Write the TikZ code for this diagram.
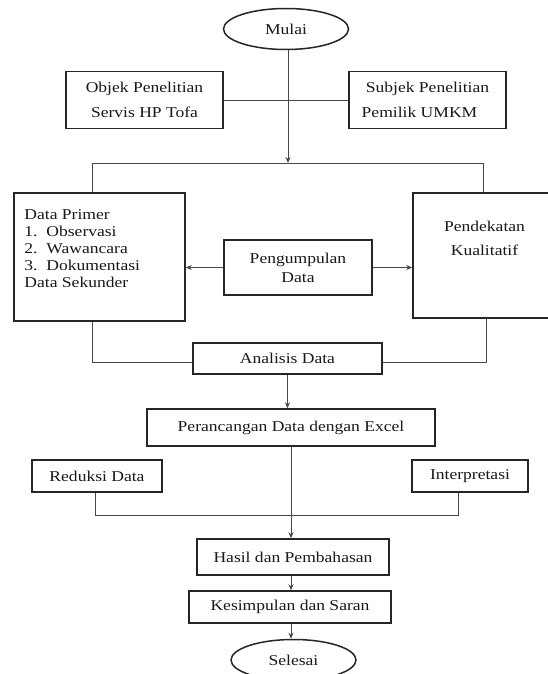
\documentclass[tikz,border=0pt]{standalone}
\usepackage{fontspec}
\setmainfont{Liberation Serif}[FakeStretch=1.17]
\usetikzlibrary{shapes.geometric,arrows.meta}
\begin{document}
\begin{tikzpicture}[x=1pt,y=-1pt,
  box/.style={draw=black!85, line width=1.5pt, inner sep=0pt, font=\fontsize{15}{17}\selectfont, text=black!90},
  oval/.style={ellipse, draw=black!85, line width=1.5pt, inner sep=0pt, font=\fontsize{15}{17}\selectfont, text=black!90},
  conn/.style={draw=black!72, line width=0.9pt},
  arr/.style={conn, -{Stealth[length=6pt,width=5pt]}}]
\useasboundingbox (0,0) rectangle (548,674);
\fill[white] (0,0) rectangle (548,674);

% nodes
\node[oval, minimum width=125pt, minimum height=41pt] (mulai) at (286,29) {Mulai};
\node[box, minimum width=157pt, minimum height=57pt, align=center, font=\fontsize{15}{25}\selectfont] (objek) at (144.5,100) {Objek Penelitian\\Servis HP Tofa};
\node[box, minimum width=157pt, minimum height=57pt, align=center, font=\fontsize{15}{25}\selectfont] (subjek) at (427.5,100) {Subjek Penelitian\\\hspace*{-16pt}Pemilik UMKM};
\node[box, minimum width=171pt, minimum height=128pt,
  label={[anchor=north west, inner sep=0pt, xshift=11pt, yshift=-17pt, align=left, font=\fontsize{15}{17}\selectfont, text=black!90]north west:{Data Primer\\\makebox[22pt][l]{1.}Observasi\\\makebox[22pt][l]{2.}Wawancara\\\makebox[22pt][l]{3.}Dokumentasi\\Data Sekunder}}] (dp) at (99.5,257) {};
\node[box, minimum width=139pt, minimum height=125pt,
  label={[anchor=north, inner sep=0pt, xshift=2pt, yshift=-29pt, align=center, font=\fontsize{15}{24}\selectfont, text=black!90]north:{Pendekatan\\Kualitatif}}] (pk) at (482.5,255.5) {};
\node[box, minimum width=148pt, minimum height=55pt, align=center, font=\fontsize{15}{19}\selectfont] (pg) at (298,267.5) {Pengumpulan\\Data};
\node[box, minimum width=189pt, minimum height=31pt] (an) at (287.5,358.5) {Analisis Data};
\node[box, minimum width=288pt, minimum height=37pt] (pr) at (291,427.5) {Perancangan Data dengan Excel};
\node[box, minimum width=130pt, minimum height=32pt] (rd) at (97,476) {Reduksi Data};
\node[box, minimum width=116pt, minimum height=32pt] (ip) at (470,476) {Interpretasi};
\node[box, minimum width=192pt, minimum height=36pt] (hs) at (293,557) {Hasil dan Pembahasan};
\node[box, minimum width=202pt, minimum height=32pt] (ks) at (290,607) {Kesimpulan dan Saran};
\node[oval, minimum width=125pt, minimum height=41pt] (se) at (293.5,660) {Selesai};

% junction points
\coordinate (tm) at (288,163);
\coordinate (tl) at (92,163);
\coordinate (tr) at (483,163);
\coordinate (bl) at (92,362);
\coordinate (br) at (486,362);
\coordinate (ml) at (95,515);
\coordinate (mr) at (458,515);

% connectors
\draw[conn] (objek.east) -- (subjek.west);
\draw[arr] (mulai.south -| tm) -- (tm);
\draw[conn] (dp.north -| tl) -- (tl) -- (tr) -- (tr |- pk.north);
\draw[arr] (pg.west) -- (pg.west -| dp.east);
\draw[arr] (pg.east) -- (pg.east -| pk.west);
\draw[conn] (dp.south -| bl) -- (bl) -- (bl -| an.west);
\draw[conn] (pk.south -| br) -- (br) -- (br -| an.east);
\draw[arr] (an.south) -- (an.south |- pr.north);
\draw[conn] (rd.south -| ml) -- (ml) -- (mr) -- (mr |- ip.south);
\draw[arr] (pr.south) -- (pr.south |- hs.north);
\draw[arr] (hs.south -| pr.south) -- (ks.north -| pr.south);
\draw[arr] (ks.south -| pr.south) -- (se.north -| pr.south);
\end{tikzpicture}
\end{document}
